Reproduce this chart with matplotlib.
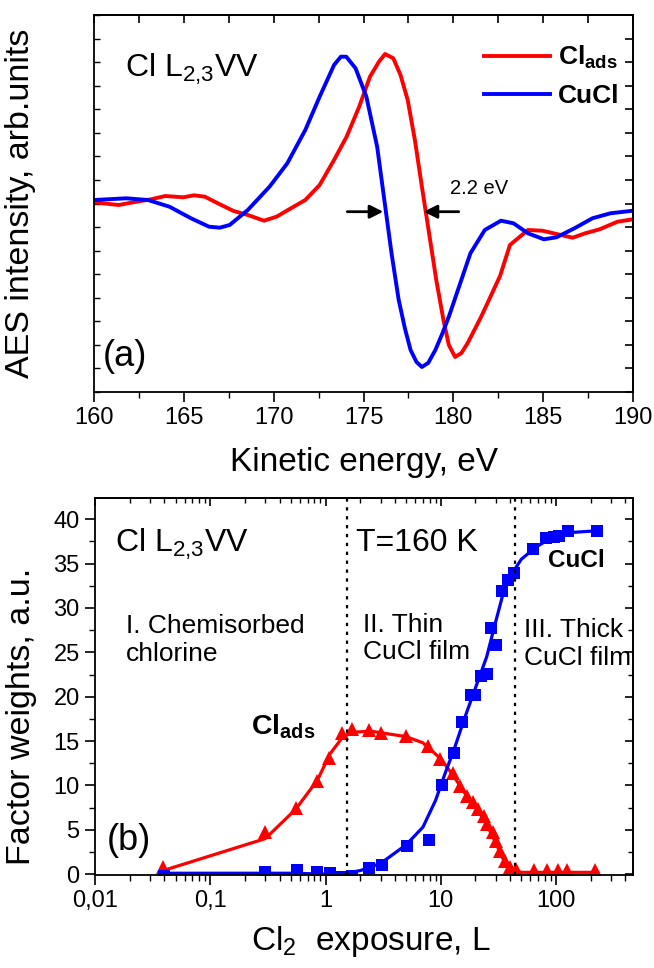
import matplotlib
matplotlib.use("Agg")
import matplotlib.pyplot as plt
from matplotlib.ticker import FixedLocator, MultipleLocator, NullFormatter, FixedFormatter

plt.rcParams["font.family"] = ["Liberation Sans", "DejaVu Sans"]
plt.rcParams["mathtext.fontset"] = "custom"
plt.rcParams["mathtext.rm"] = "Liberation Sans"
plt.rcParams["mathtext.bf"] = "Liberation Sans:bold"
plt.rcParams["axes.linewidth"] = 1.3

# %% (a) AES spectra, derivative mode (arb. units)
e_cucl = [160, 161.8, 163.0, 164.2, 165.4, 166.4, 167.0, 167.55, 168.56, 169.77,
          170.76, 171.76, 172.56, 173.36, 173.74, 174.04, 174.56, 175.16, 175.76,
          176.16, 176.56, 176.96, 177.3, 177.62, 177.95, 178.25, 178.6, 179.0,
          179.4, 179.75, 180.95, 181.75, 182.65, 183.35, 184.15, 185.04, 185.74,
          186.74, 187.74, 188.74, 190]
i_cucl = [0, 1.7, 0, -6.7, -18.3, -26.7, -27.7, -25, -10, 13.3,
          36.7, 70, 103.3, 135, 143.3, 143.3, 131.7, 103.3, 53.3,
          0, -53.3, -100, -128, -150, -162, -167, -163, -150,
          -133, -116.7, -53.3, -30, -20.7, -23.3, -33.3, -39.3, -37.3,
          -28.3, -18.3, -13.3, -10.7]

e_ads = [160, 161.37, 162.37, 163.17, 163.97, 164.97, 165.57, 166.17, 166.97, 167.77,
         168.56, 169.46, 170.16, 170.96, 171.76, 172.56, 173.36, 174.06, 174.76,
         175.36, 175.86, 176.2, 176.66, 177.06, 177.46, 177.86, 178.25, 178.65,
         179.05, 179.45, 179.75, 180.1, 180.45, 180.8, 181.55, 182.6, 183.15, 184.15,
         184.95, 185.74, 186.64, 187.34, 188.14, 189.14, 190]
i_ads = [-2.3, -5, -1.7, 0.7, 4, 2.7, 4.7, 3.3, -4, -11,
         -15, -20.7, -16.7, -8.3, 0, 15, 40, 63.3, 93.3,
         123.3, 138.3, 146, 141.7, 125, 100, 60, 13.3, -33.3,
         -80, -120, -145, -157, -153, -143, -116.7, -76, -45, -30,
         -30.7, -34, -37.7, -33.3, -29.3, -21.7, -19.3]

# %% (b) factor weights vs Cl2 exposure
x_ads = [0.039, 0.30, 0.556, 0.836, 1.07, 1.38, 1.69, 2.36, 3.04, 5.0, 7.72, 9.93,
         12.8, 14.7, 17.0, 18.9, 21.1, 23.5, 25.2, 28.1, 30.2, 32.4, 36.1, 40.2,
         44.8, 64, 83, 104, 125, 218]
y_ads = [0.75, 4.7, 7.5, 10.5, 13.1, 15.9, 16.4, 16.3, 15.95, 15.6, 14.45, 12.95,
         11.45, 9.95, 8.8, 8.1, 7.3, 6.6, 5.6, 4.7, 3.75, 2.6, 1.5, 0.75,
         0.55, 0.45, 0.45, 0.45, 0.45, 0.45]
x_ads_fit = [0.039, 0.3, 0.55, 0.85, 1.1, 1.4, 1.7, 2.5, 5, 7, 10, 13, 16, 20,
             25, 30, 35, 40, 50, 100, 230]
y_ads_fit = [0.4, 4.0, 7.3, 10.6, 13.6, 15.4, 16.0, 16.1, 15.5, 14.8, 13.0, 11.0,
             9.2, 7.6, 5.6, 3.5, 1.6, 0.6, 0.2, 0.2, 0.2]

x_cucl = [0.0396, 0.30, 0.563, 0.848, 1.10, 1.38, 1.71, 2.40, 3.09, 5.1, 7.88,
          10.3, 12.9, 15.3, 18.1, 20.0, 22.5, 25.2, 27.5, 30.3, 34.0, 38.3, 42.9,
          63, 82, 96, 105, 128, 225]
y_cucl = [-0.2, 0.2, 0.45, 0.2, 0.1, -0.3, -0.2, 0.7, 1.0, 3.2, 3.8,
          10.05, 13.7, 17.2, 20.2, 20.2, 22.35, 22.6, 27.7, 25.8, 31.9, 33.2, 34.0,
          36.6, 37.9, 38.0, 38.1, 38.7, 38.7]
x_cucl_fit = [0.04, 0.5, 1.0, 1.5, 2, 3, 5, 7, 9, 11, 13, 16, 20, 25, 30, 35,
              43, 50, 66, 90, 130, 225]
y_cucl_fit = [0.1, 0.1, 0.0, 0.1, 0.4, 1.2, 3.3, 5.3, 8.3, 11.5, 14.0, 17.5,
              21.0, 24.5, 28.5, 31.8, 34.2, 35.5, 36.8, 37.9, 38.5, 38.7]

region_bounds = [1.54, 44.2]
x_tick_vals = [0.01, 0.1, 1, 10, 100]
x_tick_labels = ["0,01", "0,1", "1", "10", "100"]

RED = "#ff0000"
BLUE = "#0000ff"

fig = plt.figure(figsize=(6.54, 9.68), dpi=100)
ax1 = fig.add_axes([94 / 654, 1 - 392 / 968, 539 / 654, 377 / 968])
ax2 = fig.add_axes([95 / 654, 1 - 875 / 968, 538 / 654, 377 / 968])


def mirror_ticks(ax, xmajor=None, xminor=None, ymajor=None, yminor=None):
    top = ax.secondary_xaxis("top")
    right = ax.secondary_yaxis("right")
    if xmajor is not None:
        top.xaxis.set_major_locator(xmajor)
    if xminor is not None:
        top.xaxis.set_minor_locator(xminor)
    if ymajor is not None:
        right.yaxis.set_major_locator(ymajor)
    if yminor is not None:
        right.yaxis.set_minor_locator(yminor)
    top.xaxis.set_major_formatter(NullFormatter())
    top.xaxis.set_minor_formatter(NullFormatter())
    right.yaxis.set_major_formatter(NullFormatter())
    top.tick_params(which="major", direction="in", length=6, width=1.2)
    top.tick_params(which="minor", direction="in", length=3.5, width=1.0)
    right.tick_params(which="major", direction="in", length=6, width=1.2)
    right.tick_params(which="minor", direction="in", length=3.5, width=1.0)
    for sp in list(top.spines.values()) + list(right.spines.values()):
        sp.set_linewidth(1.3)


# %% panel (a)
ax1.plot(e_ads, i_ads, color=RED, lw=2.8, label=r"$\mathbf{Cl_{ads}}$")
ax1.plot(e_cucl, i_cucl, color=BLUE, lw=2.8, label="CuCl")
ax1.set_xlim(160, 190)
ax1.set_ylim(-192, 185)
ax1.xaxis.set_major_locator(MultipleLocator(5))
ax1.xaxis.set_minor_locator(MultipleLocator(2.5))
ylim1 = ax1.get_ylim()
ystep = (ylim1[1] - ylim1[0]) / 16
ax1.yaxis.set_major_locator(MultipleLocator(ystep, offset=ylim1[0]))
ax1.yaxis.set_major_formatter(NullFormatter())
ax1.tick_params(axis="x", which="major", direction="out", length=7, width=1.2,
                labelsize=17, pad=4)
ax1.tick_params(axis="x", which="minor", direction="out", length=4, width=1.0)
ax1.tick_params(axis="y", which="major", direction="in", length=4, width=1.0)
mirror_ticks(ax1, xmajor=MultipleLocator(2.5),
             ymajor=MultipleLocator(ystep, offset=ylim1[0]))

ax1.set_xlabel("Kinetic energy, eV", fontsize=24)
ax1.xaxis.set_label_coords(0.5, -0.145)
ax1.set_ylabel("AES intensity, arb.units", fontsize=24.5)
ax1.yaxis.set_label_coords(-0.108, 0.5)

ax1.text(161.75, 123, r"Cl L$_{2{,}3}$VV", fontsize=23, ha="left", va="baseline")
ax1.text(160.5, -157, "(a)", fontsize=26, ha="left", va="center")

ax1.annotate("", xy=(176.1, -11.7), xytext=(174.1, -11.7),
             arrowprops=dict(arrowstyle="-|>", color="black", lw=2,
                             mutation_scale=20, shrinkA=0, shrinkB=0))
ax1.annotate("", xy=(178.35, -11.7), xytext=(180.3, -11.7),
             arrowprops=dict(arrowstyle="-|>", color="black", lw=2,
                             mutation_scale=20, shrinkA=0, shrinkB=0))
ax1.text(179.8, 12, "2.2 eV", fontsize=14.5, ha="left", va="center")

leg = ax1.legend(loc="upper right", bbox_to_anchor=(1.0, 0.958), frameon=False,
                 prop={"size": 19, "weight": "bold"}, handlelength=2.5,
                 handletextpad=0.3, labelspacing=0.5, borderaxespad=0.1)

# %% panel (b)
ax2.set_xscale("log")
ax2.plot(x_ads_fit, y_ads_fit, color=RED, lw=2.3)
ax2.plot(x_ads, y_ads, "^", color=RED, ms=9.5, mew=0)
ax2.plot(x_cucl_fit, y_cucl_fit, color=BLUE, lw=2.3)
ax2.plot(x_cucl, y_cucl, "s", color=BLUE, ms=8, mew=0)
for xb in region_bounds:
    ax2.axvline(xb, color="black", ls=(0, (1.5, 2.5)), lw=1.6)

ax2.set_xlim(0.01, 465)
ax2.set_ylim(-0.1, 42.4)
ax2.xaxis.set_major_locator(FixedLocator(x_tick_vals))
ax2.xaxis.set_major_formatter(FixedFormatter(x_tick_labels))
ax2.yaxis.set_major_locator(MultipleLocator(5))
ax2.yaxis.set_minor_locator(MultipleLocator(2.5))
ax2.tick_params(which="major", direction="out", length=7, width=1.2,
                labelsize=17, pad=4)
ax2.tick_params(which="minor", direction="out", length=4, width=1.0)
mirror_ticks(ax2, ymajor=MultipleLocator(5), yminor=MultipleLocator(2.5))

ax2.set_xlabel(r"Cl$_2$  exposure, L", fontsize=24)
ax2.xaxis.set_label_coords(0.513, -0.13)
ax2.set_ylabel("Factor weights, a.u.", fontsize=24.5)
ax2.yaxis.set_label_coords(-0.108, 0.42)

ax2.text(0.015, 36.4, r"Cl L$_{2{,}3}$VV", fontsize=23, ha="left", va="baseline")
ax2.text(1.84, 36.4, "T=160 K", fontsize=23, ha="left", va="baseline")
ax2.text(0.0187, 24.0, "I. Chemisorbed\nchlorine", fontsize=19, ha="left",
         va="baseline", linespacing=1.2)
ax2.text(2.12, 24.2, "II. Thin\nCuCl film", fontsize=19, ha="left",
         va="baseline", linespacing=1.2)
ax2.text(52.5, 23.6, "III. Thick\nCuCl film", fontsize=19, ha="left",
         va="baseline", linespacing=1.2)
ax2.text(85, 34.6, "CuCl", fontsize=17.5, fontweight="bold", ha="left",
         va="baseline")
ax2.text(0.225, 15.7, r"$\mathbf{Cl_{ads}}$", fontsize=20.5, ha="left",
         va="baseline")
ax2.text(0.0126, 3.8, "(b)", fontsize=26, ha="left", va="center")

fig.savefig("out.png", dpi=100)
